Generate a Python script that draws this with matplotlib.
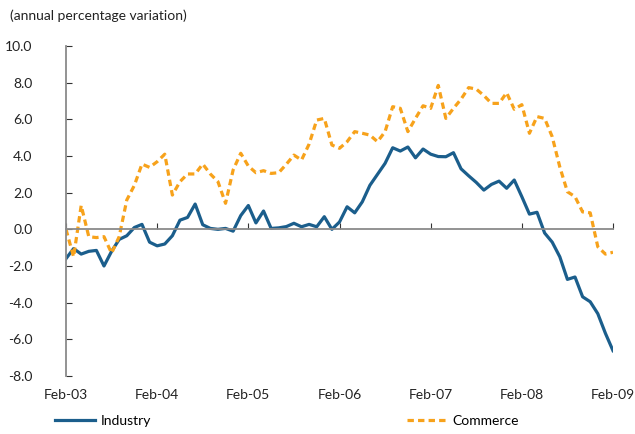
import matplotlib
matplotlib.use("Agg")
import matplotlib.pyplot as plt
import numpy as np

plt.rcParams['font.family'] = ['Lato', 'DejaVu Sans']

# monthly data, Feb-03 .. Feb-09
industry = [-1.6, -1.05, -1.35, -1.2, -1.15, -2.0, -1.2, -0.55, -0.35, 0.1,
            0.27, -0.7, -0.9, -0.8, -0.35, 0.5, 0.65, 1.38, 0.25, 0.05,
            0.0, 0.05, -0.1, 0.75, 1.3, 0.35, 1.0, 0.05, 0.08, 0.15,
            0.33, 0.14, 0.27, 0.14, 0.69, 0.0, 0.4, 1.23, 0.9, 1.5,
            2.4, 3.0, 3.6, 4.45, 4.27, 4.49, 3.9, 4.38, 4.1, 3.97,
            3.96, 4.18, 3.3, 2.92, 2.56, 2.14, 2.45, 2.63, 2.24, 2.69,
            1.78, 0.83, 0.93, -0.2, -0.7, -1.5, -2.73, -2.6, -3.68, -3.95,
            -4.6, -5.67, -6.62]
commerce = [0.0, -1.5, 1.3, -0.4, -0.45, -0.4, -1.3, -0.4, 1.6, 2.4,
            3.56, 3.38, 3.69, 4.1, 1.87, 2.6, 3.02, 3.02, 3.56, 3.02,
            2.6, 1.42, 3.24, 4.15, 3.45, 3.09, 3.2, 3.05, 3.09, 3.55,
            4.05, 3.78, 4.65, 5.96, 6.05, 4.6, 4.42, 4.78, 5.33, 5.24,
            5.14, 4.78, 5.33, 6.69, 6.6, 5.33, 6.05, 6.74, 6.6, 7.85,
            6.05, 6.6, 7.1, 7.73, 7.65, 7.3, 6.87, 6.87, 7.45, 6.55,
            6.8, 5.24, 6.15, 6.05, 5.05, 3.4, 2.05, 1.78, 0.95, 0.9,
            -0.95, -1.35, -1.25]
xlabels = ['Feb-03', 'Feb-04', 'Feb-05', 'Feb-06', 'Feb-07', 'Feb-08', 'Feb-09']
yticks = np.arange(-8, 10.1, 2)

blue = '#1b5e8c'
orange = '#f7a21b'
gray = '#8a8a8a'

fig = plt.figure(figsize=(6.35, 4.34), dpi=100)
ax = fig.add_axes([66/635, 1-376/434, (613-66)/635, 330/434])

m = np.arange(len(industry))
ax.plot(m, industry, color=blue, lw=2.3, label='Industry', solid_joinstyle='round')
ax.plot(np.arange(len(commerce)), commerce, color=orange, lw=2.3,
        dashes=(2.0, 1.3), label='Commerce')

ax.set_xlim(0, 72)
ax.set_ylim(-8, 10)

for s in ['top', 'right']:
    ax.spines[s].set_visible(False)
ax.spines['left'].set_color(gray)
ax.spines['left'].set_linewidth(1.3)
ax.spines['bottom'].set_position(('data', 0))
ax.spines['bottom'].set_color(gray)
ax.spines['bottom'].set_linewidth(1.3)

ax.set_yticks(yticks)
ax.set_yticklabels([f'{v:.1f}' for v in yticks], fontsize=10, color='#222222')
ax.tick_params(axis='y', direction='in', length=4, pad=24, color='#333333')

ax.set_xticks(np.arange(0, 73, 12))
ax.tick_params(axis='x', direction='in', length=4, color='#333333', labelbottom=False)
for i, lab in enumerate(xlabels):
    ax.text(i * 12, -0.058, lab, transform=ax.get_xaxis_transform(),
            ha='center', va='center', fontsize=10, color='#222222')

fig.text(10/635, 1-16/434, '(annual percentage variation)', fontsize=10,
         ha='left', va='center', color='#222222')

fig.legend(loc='center left', bbox_to_anchor=(55/635, 1-421/434), ncol=2,
           frameon=False, fontsize=10, handlelength=2.9, handletextpad=0.4,
           columnspacing=18.4, borderpad=0, borderaxespad=0)

fig.savefig('out.png', dpi=100)
